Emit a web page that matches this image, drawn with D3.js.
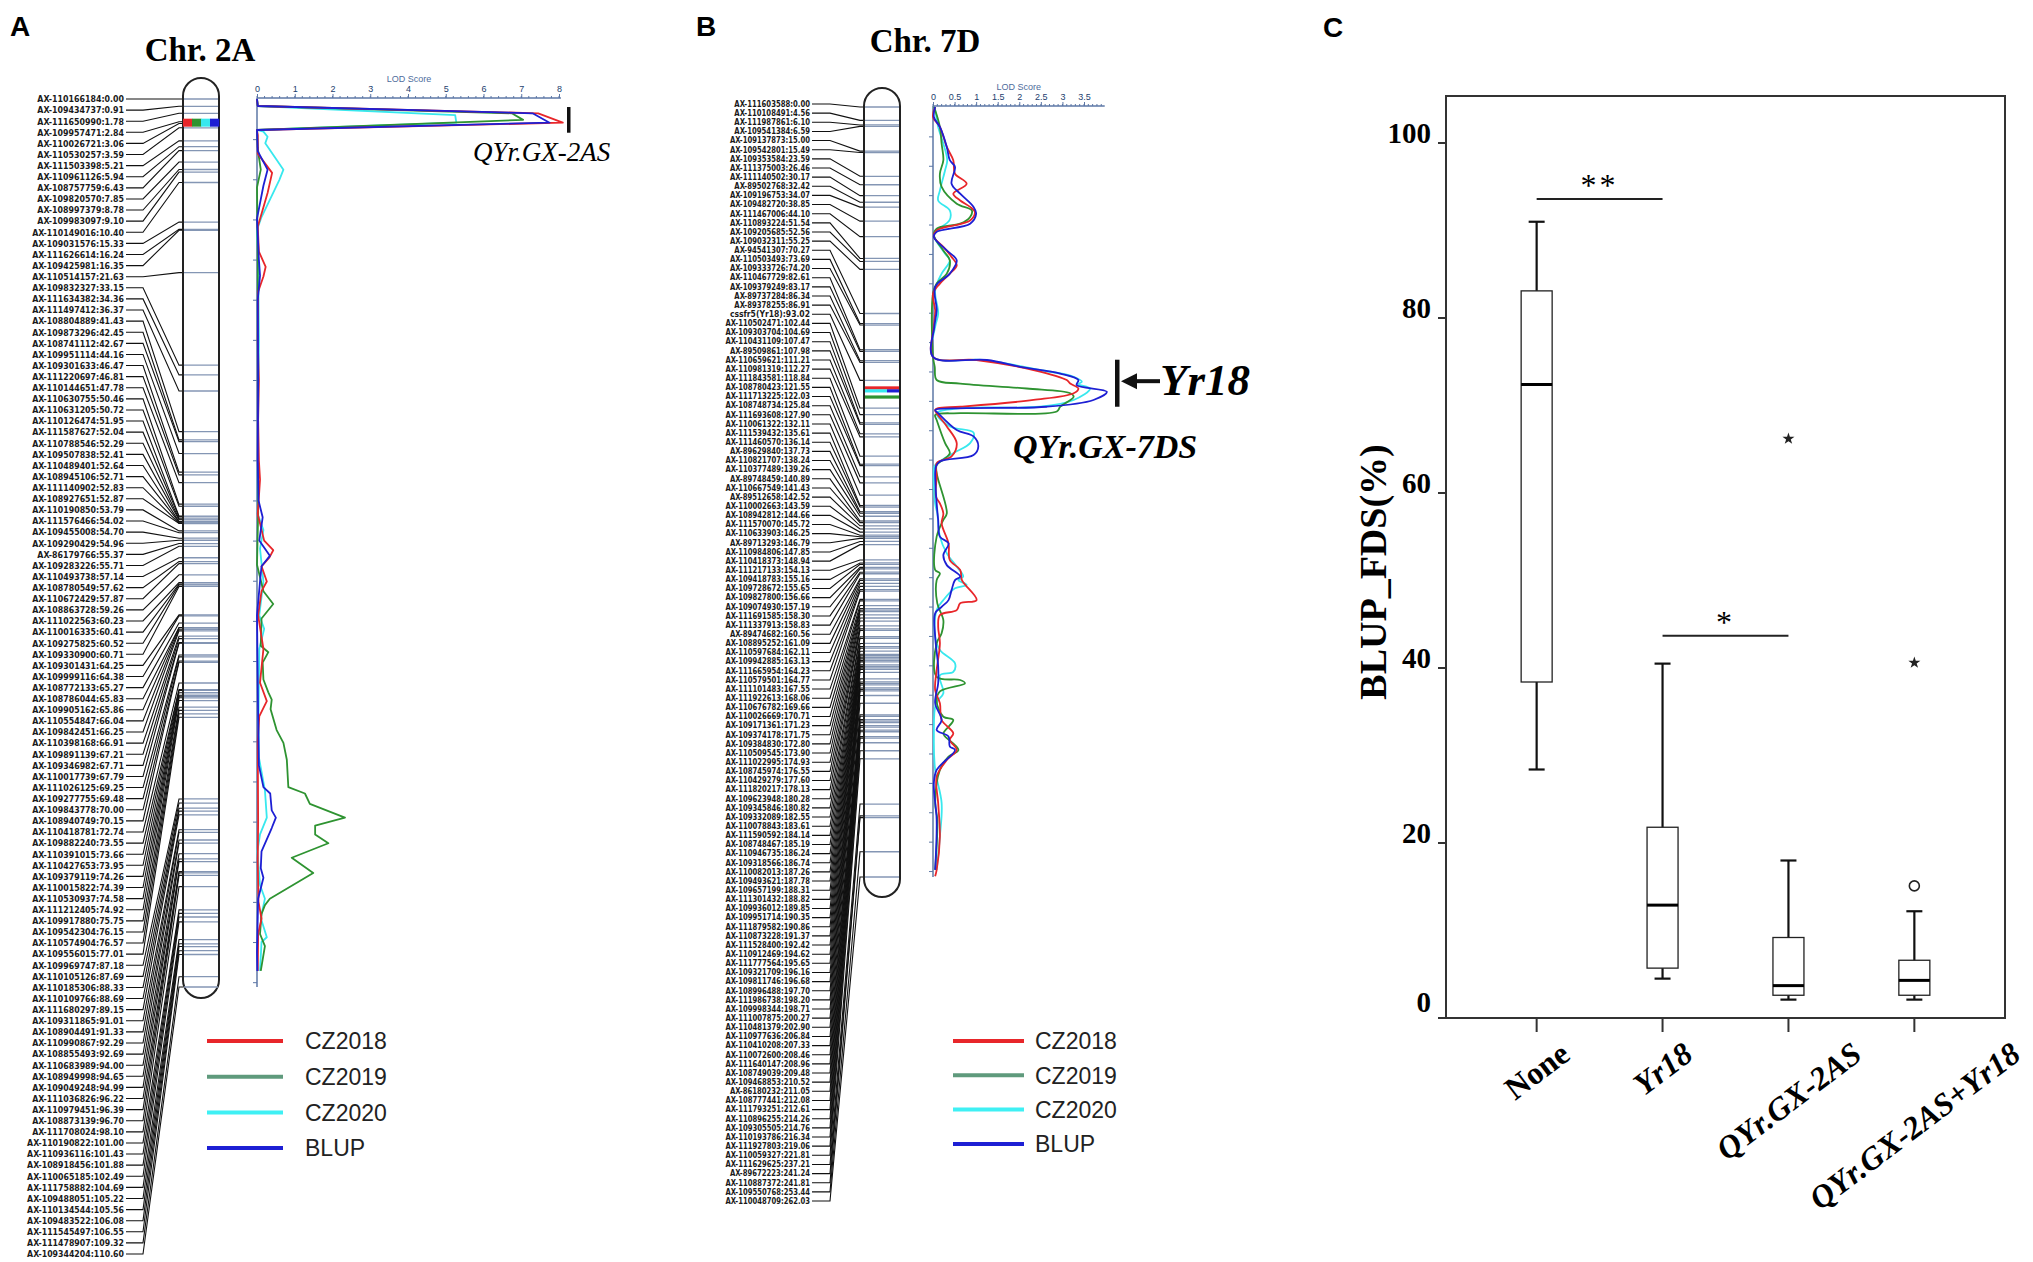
<!DOCTYPE html>
<html>
<head>
<meta charset="utf-8">
<script src="https://cdn.jsdelivr.net/npm/d3@7/dist/d3.min.js"></script>
<style>
body{margin:0;background:#fff;}
svg{display:block;}
</style>
</head>
<body>
<svg id="fig" width="2033" height="1262"></svg>
<script>
// ---------- data: chromosome 2A markers (name, cM) ----------
var markersA = [
["AX-110166184",0.00],["AX-109434737",0.91],["AX-111650990",1.78],["AX-109957471",2.84],["AX-110026721",3.06],
["AX-110530257",3.59],["AX-111503398",5.21],["AX-110961126",5.94],["AX-108757759",6.43],["AX-109820570",7.85],
["AX-108997379",8.78],["AX-109983097",9.10],["AX-110149016",10.40],["AX-109031576",15.33],["AX-111626614",16.24],
["AX-109425981",16.35],["AX-110514157",21.63],["AX-109832327",33.15],["AX-111634382",34.36],["AX-111497412",36.37],
["AX-108804889",41.43],["AX-109873296",42.45],["AX-108741112",42.67],["AX-109951114",44.16],["AX-109301633",46.47],
["AX-111220697",46.81],["AX-110144651",47.78],["AX-110630755",50.46],["AX-110631205",50.72],["AX-110126474",51.95],
["AX-111587627",52.04],["AX-110788546",52.29],["AX-109507838",52.41],["AX-110489401",52.64],["AX-108945106",52.71],
["AX-111140902",52.83],["AX-108927651",52.87],["AX-110190850",53.79],["AX-111576466",54.02],["AX-109455008",54.70],
["AX-109290429",54.96],["AX-86179766",55.37],["AX-109283226",55.71],["AX-110493738",57.14],["AX-108780549",57.62],
["AX-110672429",57.87],["AX-108863728",59.26],["AX-111022563",60.23],["AX-110016335",60.41],["AX-109275825",60.52],
["AX-109330900",60.71],["AX-109301431",64.25],["AX-109999116",64.38],["AX-108772133",65.27],["AX-108786044",65.83],
["AX-109905162",65.86],["AX-110554847",66.04],["AX-109842451",66.25],["AX-110398168",66.91],["AX-109891139",67.21],
["AX-109346982",67.71],["AX-110017739",67.79],["AX-111026125",69.25],["AX-109277755",69.48],["AX-109843778",70.00],
["AX-108940749",70.15],["AX-110418781",72.74],["AX-109882240",73.55],["AX-110391015",73.66],["AX-110427653",73.95],
["AX-109379119",74.26],["AX-110015822",74.39],["AX-110530937",74.58],["AX-111212405",74.92],["AX-109917880",75.75],
["AX-109542304",76.15],["AX-110574904",76.57],["AX-109556015",77.01],["AX-109969747",87.18],["AX-110105126",87.69],
["AX-110185306",88.33],["AX-110109766",88.69],["AX-111680297",89.15],["AX-109311865",91.01],["AX-108904491",91.33],
["AX-110990867",92.29],["AX-108855493",92.69],["AX-110683989",94.00],["AX-108949998",94.65],["AX-109049248",94.99],
["AX-111036826",96.22],["AX-110979451",96.39],["AX-108873139",96.70],["AX-111708024",98.10],["AX-110190822",101.00],
["AX-110936116",101.43],["AX-108918456",101.88],["AX-110065185",102.49],["AX-111758882",104.69],["AX-109488051",105.22],
["AX-110134544",105.56],["AX-109483522",106.08],["AX-111545497",106.55],["AX-111478907",109.32],["AX-109344204",110.60]
];

// ---------- data: chromosome 7D markers (name, cM) ----------
var markersB = [
["AX-111603588",0.00],["AX-110108491",4.56],["AX-111987861",6.10],["AX-109541384",6.59],["AX-109137873",15.00],
["AX-109542801",15.49],["AX-109353584",23.59],["AX-111375003",26.46],["AX-111140502",30.17],["AX-89502768",32.42],
["AX-109196753",34.07],["AX-109482720",38.85],["AX-111467006",44.10],["AX-110893224",51.54],["AX-109205685",52.56],
["AX-109032311",55.25],["AX-94541307",70.27],["AX-110503493",73.69],["AX-109333726",74.20],["AX-110467729",82.61],
["AX-109379249",83.17],["AX-89737284",86.34],["AX-89378255",86.91],["cssfr5(Yr18)",93.02],["AX-110502471",102.44],
["AX-109303704",104.69],["AX-110431109",107.47],["AX-89509861",107.98],["AX-110659621",111.21],["AX-110981319",112.27],
["AX-111843581",118.84],["AX-108780423",121.55],["AX-111713225",122.03],["AX-108748734",125.84],["AX-111693608",127.90],
["AX-110061322",132.11],["AX-111539432",135.61],["AX-111460570",136.14],["AX-89629840",137.73],["AX-110821707",138.24],
["AX-110377489",139.26],["AX-89748459",140.89],["AX-110667549",141.43],["AX-89512658",142.52],["AX-110002663",143.59],
["AX-108942812",144.66],["AX-111570070",145.72],["AX-110633903",146.25],["AX-89713293",146.79],["AX-110984806",147.85],
["AX-110418373",148.94],["AX-111217133",154.13],["AX-109418783",155.16],["AX-109728672",155.65],["AX-109827800",156.66],
["AX-109074930",157.19],["AX-111691585",158.30],["AX-111337913",158.83],["AX-89474682",160.56],["AX-108895252",161.09],
["AX-110597684",162.11],["AX-109942885",163.13],["AX-111665954",164.23],["AX-110579501",164.77],["AX-111101483",167.55],
["AX-111922613",168.06],["AX-110676782",169.66],["AX-110026669",170.71],["AX-109171361",171.23],["AX-109374178",171.75],
["AX-109384830",172.80],["AX-110509545",173.90],["AX-111022995",174.93],["AX-108745974",176.55],["AX-110429279",177.60],
["AX-111820217",178.13],["AX-109623948",180.28],["AX-109345846",180.82],["AX-109332089",182.55],["AX-110078843",183.61],
["AX-111590592",184.14],["AX-108748467",185.19],["AX-110946735",186.24],["AX-109318566",186.74],["AX-110082013",187.26],
["AX-109493621",187.78],["AX-109657199",188.31],["AX-111301432",188.82],["AX-109936012",189.85],["AX-109951714",190.35],
["AX-111879582",190.86],["AX-110873228",191.37],["AX-111528400",192.42],["AX-110912469",194.62],["AX-111777564",195.65],
["AX-109321709",196.16],["AX-109811746",196.68],["AX-108996488",197.70],["AX-111986738",198.20],["AX-109998344",198.71],
["AX-111007875",200.27],["AX-110481379",202.90],["AX-110977636",206.84],["AX-110410208",207.33],["AX-110072600",208.46],
["AX-111640147",208.96],["AX-108749039",209.48],["AX-109468853",210.52],["AX-86180232",211.05],["AX-108777441",212.08],
["AX-111793251",212.61],["AX-110896255",214.26],["AX-109305505",214.76],["AX-110193786",216.34],["AX-111927803",219.06],
["AX-110059327",221.81],["AX-111629625",237.21],["AX-89672223",241.24],["AX-110887372",241.81],["AX-109550768",253.44],
["AX-110048709",262.03]
];

var seriesNames = ["CZ2018","CZ2019","CZ2020","BLUP"];

// ---------- LOD profiles on 2A: [cM, LOD] ----------
var lodA_CZ2018 = [[0,0],[0.87,0.02],[1.78,7.45],[2.95,8.1],[3.86,0],[4.5,0.02],[6.8,0.02],[9.2,0.4],[11.7,0.28],[15.9,0.02],
[19,0.05],[20.9,0.23],[22.1,0.17],[24,0.03],[30,0.02],[35,0.05],[40,0.03],[45,0.05],[47.4,0.08],[51.7,0.02],[55.0,0.19],
[56.2,0.43],[57.1,0.33],[58.2,0.12],[60.1,0.26],[61.3,0.12],[64.3,0.03],[68.5,0.17],[72.7,0.08],[75.0,0.26],[76.9,0.06],
[80,0.02],[90,0.03],[95,0.02],[100,0.04],[102.1,0.12],[104,0.03],[108.6,0.02]];
var lodA_CZ2019 = [[0,0],[0.87,0.02],[1.78,6.75],[2.6,7.05],[3.86,0],[6,0.02],[7.2,0.05],[8.8,0.1],[11,0.0],[20,0.02],
[30,0.02],[40,0.03],[47.4,0.03],[51.7,0.03],[58,0.0],[61.3,0.17],[62.9,0.43],[64.7,0.12],[68.1,0.1],[68.9,0.3],[70.2,0.15],
[72.3,0.17],[73.9,0.3],[74.8,0.39],[76.0,0.36],[78.6,0.52],[80.2,0.7],[82.3,0.79],[85.7,0.83],[86.5,1.27],[87.8,1.4],
[89.5,2.33],[90.5,1.54],[91.6,1.54],[92.7,1.89],[94.5,0.92],[96.4,1.49],[99.6,0.34],[100.4,0.21],[101.5,0.12],[104,0.08],
[105.5,0.21],[108.6,0.1]];
var lodA_CZ2020 = [[0,0],[0.87,0.02],[2.0,5.25],[2.95,5.28],[3.86,0],[4.07,0.17],[4.7,0.28],[5.5,0.22],[8.8,0.7],[10.1,0.59],
[14.7,0.12],[16.3,0.0],[20,0.03],[30,0.05],[40,0.03],[47,0.02],[51.7,0.02],[53.7,0.17],[56.0,0.08],[60.1,0.17],[64.3,0.06],
[66.0,0.19],[68.5,0.06],[76.9,0.04],[82,0.05],[86.1,0.21],[89.5,0.26],[91.6,0.08],[93.7,0.01],[97.9,0.08],[99.6,0.21],
[102,0.1],[104.4,0.26],[105.0,0.12],[108.6,0.08]];
var lodA_BLUP = [[0,0],[0.87,0.02],[1.78,7.3],[2.95,7.75],[3.86,0],[6.5,0.02],[8.8,0.28],[10.8,0.17],[14.9,0],[20,0.05],
[22,0.08],[25,0.02],[35,0.03],[45,0.02],[50,0.04],[52.1,0.15],[55.0,0.06],[56.9,0.34],[58.2,0.12],[60.1,0.08],[64.3,0],
[76.9,0.03],[83,0.05],[85.7,0.17],[86.5,0.35],[88.6,0.39],[89.5,0.5],[90.8,0.39],[93.7,0.12],[95.8,0.1],[97.0,0.17],
[99.6,0.03],[106.3,0],[108.6,0.01]];

// ---------- LOD profiles on 7D: [cM, LOD] ----------
var lodB_CZ2018 = [[0,0.05],[3.4,0],[6.8,0.16],[13.6,0.32],[18.1,0.47],[22.7,0.51],[26.1,0.78],[29.5,0.47],[31.8,0.63],
[34.0,0.86],[35.7,0.97],[38.6,0.86],[42.0,0.085],[44.2,0.02],[47.6,0.24],[51.0,0.43],[53.9,0.55],[56.7,0.39],[60.1,0.16],
[63.5,0],[69.2,0.05],[74.8,0.02],[85.0,0],[86.1,1.01],[89.5,2.33],[92.9,3.1],[94.1,3.18],[95.8,3.37],[97.4,3.26],[99.7,2.33],
[102.0,0.63],[102.5,0.12],[103.1,0.05],[104.2,0.085],[108.7,0.32],[114.4,0.55],[118.9,0.43],[121.2,0.085],[125.7,0.085],
[132.6,0.07],[134.9,0.16],[138.3,0.24],[141.7,0.2],[148.5,0.36],[154.2,0.39],[157.5,0.63],[161.0,0.67],[167.8,1.01],
[168.9,0.63],[171.2,0.55],[172.9,0.16],[176.8,0.12],[182.5,0.16],[191.6,0.085],[198.4,0.05],[202.9,0.16],[208.6,0.2],
[213.1,0.47],[215.4,0.39],[218.8,0.55],[222.2,0.32],[227.9,0.085],[236.9,0.12],[248.2,0.16],[259.6,0.085],[261.8,0.05]];
var lodB_CZ2019 = [[0,0.02],[1.1,0.05],[6.8,0.16],[12.5,0.2],[18.1,0.24],[22.7,0.16],[27.2,0.2],[32.9,0.55],[35.2,0.9],
[37.4,0.86],[39.7,0.63],[41.4,0.085],[43.7,0.02],[48.8,0.24],[52.2,0.39],[56.7,0.32],[60.1,0.085],[63.5,0],[85.0,0],
[88.4,0.04],[92.9,0.085],[94.1,0.63],[95.8,2.17],[97.4,3.18],[98.6,3.26],[102.0,2.95],[103.6,2.87],[104.2,0.63],[104.8,0.05],
[106.5,0.085],[114.4,0.28],[117.8,0.39],[120.0,0.24],[121.8,0.085],[124.6,0.085],[138.3,0.32],[140.5,0.24],[146.2,0.085],
[157.5,0.05],[158.7,0.16],[161.0,0.085],[168.9,0.1],[174.6,0.24],[179.1,0.2],[182.5,0.085],[193.9,0.085],[195.0,0.63],
[196.1,0.74],[198.9,0.16],[202.3,0.085],[207.5,0.24],[208.6,0.47],[213.1,0.24],[214.2,0.28],[218.8,0.59],[221.1,0.36],
[225.6,0.16],[236.9,0.05],[242.6,0.1],[259.6,0.05]];
var lodB_CZ2020 = [[0,0.02],[1.1,0.05],[6.8,0.12],[12.5,0.24],[18.1,0.33],[21.5,0.28],[28.4,0.16],[31.8,0.12],[35.2,0.39],
[38.6,0.38],[42.0,0.085],[43.7,0.02],[49.9,0.28],[52.2,0.39],[56.7,0.2],[62.4,0.05],[70.3,0.12],[74.8,0.05],[85.0,0],
[86.1,1.17],[89.5,2.48],[91.8,3.26],[93.5,3.45],[94.3,3.37],[95.8,3.64],[99.7,3.26],[102.0,2.48],[102.5,0.63],[104.2,0.085],
[108.7,0.39],[110.8,0.94],[114.4,0.86],[117.8,0.47],[120.6,0.16],[121.8,0.05],[123.5,0.02],[134.9,0.05],[138.3,0.1],
[146.2,0.16],[151.9,0.32],[156.4,0.55],[159.8,0.7],[161.0,0.59],[162.6,0.78],[163.8,0.51],[167.8,0.24],[171.2,0.085],
[180.2,0.05],[184.8,0.16],[189.3,0.51],[192.2,0.47],[193.4,0.16],[199.5,0.24],[202.9,0.07],[214.2,0.02],[225.6,0.05],
[236.9,0.2],[248.2,0.16],[259.6,0.085]];
var lodB_BLUP = [[0,0.05],[3.4,0.02],[6.8,0.16],[13.6,0.32],[18.1,0.39],[20.4,0.51],[26.1,0.43],[29.5,0.63],[34.0,0.94],
[36.3,1.0],[39.7,0.86],[42.5,0.085],[44.2,0.02],[48.8,0.32],[52.2,0.55],[56.7,0.39],[61.2,0.05],[69.2,0.085],[74.8,0.03],
[85.0,0],[86.1,1.25],[88.4,2.02],[90.7,2.95],[92.9,3.37],[94.6,3.33],[96.9,4.03],[99.7,3.72],[102.0,2.64],[102.5,0.78],
[103.1,0.05],[104.2,0.12],[109.9,0.55],[112.1,0.94],[115.5,1.05],[118.4,0.94],[120.6,0.16],[122.3,0.07],[124.6,0.05],
[134.9,0.085],[140.5,0.12],[146.2,0.16],[148.5,0.36],[152.5,0.24],[155.9,0.32],[159.8,0.63],[161.0,0.51],[164.4,0.43],
[167.8,0.36],[170.1,0.2],[172.3,0.05],[180.2,0.05],[190.5,0.12],[196.1,0.12],[202.9,0.05],[208.6,0.2],[212.0,0.085],
[214.2,0.36],[217.6,0.39],[218.8,0.51],[225.6,0.085],[230.1,0.02],[242.6,0.085],[259.6,0.05]];

// QTL peak position drawn on the chromosome bars (cM)
var peakA = 2.95;
var peakB = [95.6, 96.6, 98.7]; // CZ2018 / CZ2020+BLUP / CZ2019

// ---------- box plot ----------
var boxCats = ["None","Yr18","QYr.GX-2AS","QYr.GX-2AS+Yr18"];
var boxLow  = [28.4, 4.5, 2.1, 2.1];
var boxQ1   = [38.4, 5.7, 2.6, 2.6];
var boxMed  = [72.4, 12.9, 3.7, 4.3];
var boxQ3   = [83.1, 21.8, 9.2, 6.6];
var boxHigh = [91.0, 40.5, 18.0, 12.2];
var outlierPts = [["QYr.GX-2AS+Yr18",15.1]];
var extremePts = [["QYr.GX-2AS",66.2],["QYr.GX-2AS+Yr18",40.6]];
var sigBars = [["None","Yr18",93.6,"**"],["Yr18","QYr.GX-2AS",43.7,"*"]];
var yTicksC = [0,20,40,60,80,100];

var colors = {"CZ2018":"#e8262a","CZ2019":"#2e9331","CZ2020":"#38e8ee","BLUP":"#1d1fd4"};
var legendColors = {"CZ2018":"#e8262a","CZ2019":"#5f9a7c","CZ2020":"#3ff0f4","BLUP":"#1d1fd4"};

var svg = d3.select("#fig");
var serif = "'Liberation Serif','Times New Roman',serif";
var sans = "'Liberation Sans',Arial,sans-serif";
var narrow = "'Liberation Sans Narrow','DejaVu Sans Condensed','Liberation Sans',sans-serif";

// panel letters
svg.selectAll("text.plab")
    .data([["A",10,36],["B",696,36],["C",1323,37]])
    .enter().append("text")
    .attr("x", function(d){ return d[1]; })
    .attr("y", function(d){ return d[2]; })
    .style("font-family", sans).style("font-weight","bold").style("font-size","28px")
    .text(function(d){ return d[0]; });

// ===== linkage map panel =====
function drawMap(cfg){
    var g = svg.append("g");
    var y = d3.scaleLinear().domain([0, cfg.maxCM]).range([cfg.y0, cfg.y1]);
    var n = cfg.markers.length;
    var yl = d3.scaleLinear().domain([0, n-1]).range([cfg.lab0, cfg.lab1]);

    g.append("text")
        .attr("x", cfg.titleX).attr("y", cfg.titleY)
        .attr("text-anchor","middle")
        .style("font-family", serif).style("font-weight","bold").style("font-size","33px")
        .text(cfg.title);

    // marker labels
    g.selectAll("text.mk")
        .data(cfg.markers)
        .enter().append("text")
        .attr("x", cfg.textRight)
        .attr("y", function(d,i){ return yl(i); })
        .attr("dy","0.35em")
        .attr("text-anchor","end")
        .attr("textLength", function(d){ return (d[0]+":"+d[1].toFixed(2)).length * cfg.charW; })
        .attr("lengthAdjust","spacingAndGlyphs")
        .style("font-family", narrow).style("font-weight","bold")
        .style("font-size", cfg.fontSize+"px").style("fill","#1a1a1a")
        .text(function(d){ return d[0]+":"+d[1].toFixed(2); });

    // connector lines
    g.selectAll("polyline.ln")
        .data(cfg.markers)
        .enter().append("polyline")
        .attr("points", function(d,i){
            var a = yl(i), b = y(d[1]);
            return [[cfg.textRight+2,a],[cfg.stubEnd,a],[cfg.cx0-4,b],[cfg.cx0,b]].join(" ");
        })
        .style("fill","none").style("stroke","#111").style("stroke-width",1.1);

    // chromosome body
    g.append("rect")
        .attr("x", cfg.cx0).attr("y", cfg.top)
        .attr("width", cfg.cx1-cfg.cx0).attr("height", cfg.bottom-cfg.top)
        .attr("rx", (cfg.cx1-cfg.cx0)/2)
        .style("fill","#fff").style("stroke","#222").style("stroke-width",2);

    g.selectAll("line.band")
        .data(cfg.markers)
        .enter().append("line")
        .attr("x1", cfg.cx0+1).attr("x2", cfg.cx1-1)
        .attr("y1", function(d){ return y(d[1]); })
        .attr("y2", function(d){ return y(d[1]); })
        .style("stroke","#8496b4").style("stroke-width",1.3);

    cfg.peak(g, y);

    // LOD axes
    var x = d3.scaleLinear().domain([0, cfg.lodMax]).range([cfg.lx0, cfg.lx1]);
    var ax = g.append("g").attr("transform","translate(0,"+(cfg.y0-1)+")")
        .call(d3.axisTop(x).tickValues(cfg.lodTicks).tickSize(4).tickFormat(d3.format("")));
    ax.select(".domain").attr("d","M"+cfg.lx0+",0H"+x(cfg.lodEnd)).style("stroke","#5c77a6").style("stroke-width",1.5);
    ax.selectAll(".tick line").style("stroke","#5c77a6");
    ax.selectAll(".tick text").style("font-family",sans).style("font-size","9px").style("fill","#23406e").attr("y",-6);
    g.selectAll("line.minor")
        .data(d3.range(0, cfg.lodEnd+0.001, cfg.minorStep))
        .enter().append("line")
        .attr("x1", function(d){ return x(d); }).attr("x2", function(d){ return x(d); })
        .attr("y1", cfg.y0-1).attr("y2", cfg.y0-3)
        .style("stroke","#5c77a6").style("stroke-width",1);
    g.append("text")
        .attr("x", (cfg.lx0+x(cfg.lodEnd))/2).attr("y", cfg.y0-17)
        .attr("text-anchor","middle")
        .style("font-family",sans).style("font-size","9px").style("fill","#4e6c9c")
        .text("LOD Score");

    var ay = g.append("g").attr("transform","translate("+cfg.lx0+",0)")
        .call(d3.axisLeft(y).tickValues(d3.range(cfg.cmStep, cfg.maxCM, cfg.cmStep)).tickSize(4).tickFormat(""));
    ay.select(".domain").attr("d","M0,"+(cfg.y0-1)+"V"+cfg.y1).style("stroke","#5c77a6").style("stroke-width",1.5);
    ay.selectAll(".tick line").style("stroke","#5c77a6");

    var line = d3.line()
        .x(function(d){ return x(d[1]); })
        .y(function(d){ return y(d[0]); })
        .curve(cfg.curve);
    var drawOrder = ["CZ2020","CZ2019","CZ2018","BLUP"];
    drawOrder.forEach(function(s){
        g.append("path")
            .datum(cfg.lod[s])
            .attr("d", line)
            .style("fill","none").style("stroke",colors[s]).style("stroke-width",1.8)
            .style("stroke-linejoin","round");
    });

    // legend
    var lg = g.selectAll("g.leg")
        .data(seriesNames)
        .enter().append("g")
        .attr("transform", function(d,i){ return "translate(0,"+(cfg.legY0+i*cfg.legDy)+")"; });
    lg.append("line")
        .attr("x1", cfg.legX0).attr("x2", cfg.legX1)
        .style("stroke", function(d){ return legendColors[d]; }).style("stroke-width",4);
    lg.append("text")
        .attr("x", cfg.legTextX).attr("dy","0.36em")
        .style("font-family",sans).style("font-size","23px").style("fill","#222")
        .text(function(d){ return d; });
    return {g:g, x:x, y:y};
}

var mapA = drawMap({
    title:"Chr. 2A", titleX:200, titleY:61,
    markers:markersA, maxCM:110.6, y0:99, y1:987,
    lab0:99, lab1:1254, textRight:124, stubEnd:143, charW:5.1, fontSize:9.5,
    cx0:183, cx1:219, top:78, bottom:998,
    lodMax:8, lx0:257, lx1:559, lodEnd:8.05, lodTicks:d3.range(0,9), minorStep:0.2, cmStep:5,
    lod:{"CZ2018":lodA_CZ2018,"CZ2019":lodA_CZ2019,"CZ2020":lodA_CZ2020,"BLUP":lodA_BLUP},
    curve:d3.curveLinear,
    legY0:1041, legDy:35.7, legX0:207, legX1:283, legTextX:305,
    peak:function(g, y){
        var w = (219-183)/4;
        g.selectAll("rect.pk")
            .data(seriesNames)
            .enter().append("rect")
            .attr("x", function(d,i){ return 183+i*w; })
            .attr("y", y(peakA)-4).attr("width", w+0.3).attr("height", 8)
            .style("fill", function(d){ return colors[d]; });
    }
});

var mapB = drawMap({
    title:"Chr. 7D", titleX:925, titleY:52,
    markers:markersB, maxCM:262.03, y0:107, y1:877,
    lab0:104, lab1:1201, textRight:810, stubEnd:830, charW:4.45, fontSize:8,
    cx0:864, cx1:900, top:88, bottom:897,
    lodMax:3.5, lx0:933, lx1:1084, lodEnd:3.98, lodTicks:d3.range(0,3.51,0.5), minorStep:0.1, cmStep:10,
    lod:{"CZ2018":lodB_CZ2018,"CZ2019":lodB_CZ2019,"CZ2020":lodB_CZ2020,"BLUP":lodB_BLUP},
    curve:d3.curveCatmullRom.alpha(0.5),
    legY0:1041, legDy:34.3, legX0:953, legX1:1024, legTextX:1035,
    peak:function(g, y){
        g.append("rect").attr("x",865).attr("y",y(peakB[0])-1.6).attr("width",34).attr("height",3.2).style("fill",colors["CZ2018"]);
        g.append("rect").attr("x",865).attr("y",y(peakB[1])-1.6).attr("width",22).attr("height",3.2).style("fill",colors["CZ2020"]);
        g.append("rect").attr("x",887).attr("y",y(peakB[1])-1.6).attr("width",12).attr("height",3.2).style("fill",colors["BLUP"]);
        g.append("rect").attr("x",865).attr("y",y(peakB[2])-1.6).attr("width",34).attr("height",3.2).style("fill",colors["CZ2019"]);
    }
});

// QTL annotations
svg.append("rect").attr("x",567).attr("y",mapA.y(1.0)).attr("width",3.5).attr("height",mapA.y(4.2)-mapA.y(1.0)).style("fill","#111");
svg.append("text").attr("x",473).attr("y",161)
    .style("font-family",serif).style("font-style","italic").style("font-size","27px")
    .text("QYr.GX-2AS");

svg.append("rect").attr("x",1115).attr("y",mapB.y(86)).attr("width",4.5).attr("height",mapB.y(102)-mapB.y(86)).style("fill","#111");
svg.append("line").attr("x1",1134).attr("x2",1160).attr("y1",mapB.y(93.3)).attr("y2",mapB.y(93.3))
    .style("stroke","#111").style("stroke-width",4);
svg.append("path")
    .attr("d","M1121,"+mapB.y(93.3)+"l16,-8v16z")
    .style("fill","#111");
svg.append("text").attr("x",1160).attr("y",395)
    .style("font-family",serif).style("font-style","italic").style("font-weight","bold").style("font-size","45px")
    .text("Yr18");
svg.append("text").attr("x",1013).attr("y",458)
    .style("font-family",serif).style("font-style","italic").style("font-weight","bold").style("font-size","34px")
    .text("QYr.GX-7DS");

// ===== panel C: box plot =====
var fx0 = 1446, fx1 = 2005, fy0 = 96, fy1 = 1018;
var xC = d3.scalePoint().domain(boxCats).range([fx0, fx1]).padding(0.72);
var yC = d3.scaleLinear().domain([0,100]).range([fy1, 143]);
var gc = svg.append("g");

gc.append("rect").attr("x",fx0).attr("y",fy0).attr("width",fx1-fx0).attr("height",fy1-fy0)
    .style("fill","none").style("stroke","#333").style("stroke-width",2);

gc.selectAll("line.yt")
    .data(yTicksC).enter().append("line")
    .attr("x1",fx0-8).attr("x2",fx0)
    .attr("y1",function(d){ return yC(d); }).attr("y2",function(d){ return yC(d); })
    .style("stroke","#333").style("stroke-width",2);
gc.selectAll("text.yl")
    .data(yTicksC).enter().append("text")
    .attr("x",1431)
    .attr("y",function(d){ return yC(d) - (d===0 ? 16 : 10); })
    .attr("dy","0.35em").attr("text-anchor","end")
    .style("font-family",serif).style("font-weight","bold").style("font-size","29px")
    .text(function(d){ return d; });

gc.selectAll("line.xt")
    .data(boxCats).enter().append("line")
    .attr("x1",function(d){ return xC(d); }).attr("x2",function(d){ return xC(d); })
    .attr("y1",fy1).attr("y2",fy1+14)
    .style("stroke","#333").style("stroke-width",2);

gc.append("text")
    .attr("transform","translate(1386,572) rotate(-90)")
    .attr("text-anchor","middle")
    .style("font-family",serif).style("font-weight","bold").style("font-size","38px")
    .text("BLUP_FDS(%)");

var bw = 31, capW = 16;
var boxes = gc.selectAll("g.box")
    .data(boxCats).enter().append("g");
boxes.append("line")
    .attr("x1",function(d){ return xC(d); }).attr("x2",function(d){ return xC(d); })
    .attr("y1",function(d,i){ return yC(boxHigh[i]); }).attr("y2",function(d,i){ return yC(boxLow[i]); })
    .style("stroke","#111").style("stroke-width",2.2);
boxes.append("rect")
    .attr("x",function(d){ return xC(d)-bw/2; })
    .attr("y",function(d,i){ return yC(boxQ3[i]); })
    .attr("width",bw)
    .attr("height",function(d,i){ return yC(boxQ1[i]) - yC(boxQ3[i]); })
    .style("fill","#fff").style("stroke","#222").style("stroke-width",1.3);
boxes.append("line")
    .attr("x1",function(d){ return xC(d)-bw/2; }).attr("x2",function(d){ return xC(d)+bw/2; })
    .attr("y1",function(d,i){ return yC(boxMed[i]); }).attr("y2",function(d,i){ return yC(boxMed[i]); })
    .style("stroke","#000").style("stroke-width",3);
[boxHigh, boxLow].forEach(function(arr){
    boxes.append("line")
        .attr("x1",function(d){ return xC(d)-capW/2; }).attr("x2",function(d){ return xC(d)+capW/2; })
        .attr("y1",function(d,i){ return yC(arr[i]); }).attr("y2",function(d,i){ return yC(arr[i]); })
        .style("stroke","#111").style("stroke-width",2.2);
});

gc.selectAll("circle.out")
    .data(outlierPts).enter().append("circle")
    .attr("cx",function(d){ return xC(d[0]); }).attr("cy",function(d){ return yC(d[1]); })
    .attr("r",5).style("fill","none").style("stroke","#222").style("stroke-width",1.6);
gc.selectAll("path.ext")
    .data(extremePts).enter().append("path")
    .attr("transform",function(d){ return "translate("+xC(d[0])+","+yC(d[1])+")"; })
    .attr("d", d3.symbol().type(d3.symbolStar).size(45))
    .style("fill","#222");

gc.selectAll("line.sig")
    .data(sigBars).enter().append("line")
    .attr("x1",function(d){ return xC(d[0]); }).attr("x2",function(d){ return xC(d[1]); })
    .attr("y1",function(d){ return yC(d[2]); }).attr("y2",function(d){ return yC(d[2]); })
    .style("stroke","#222").style("stroke-width",2);
gc.selectAll("text.sig")
    .data(sigBars).enter().append("text")
    .attr("x",function(d){ return (xC(d[0])+xC(d[1]))/2; })
    .attr("y",function(d){ return yC(d[2]) - 3; })
    .attr("text-anchor","middle")
    .style("font-family",serif).style("font-size","32px").style("letter-spacing","3px")
    .text(function(d){ return d[3]; });

// rotated category labels: bbox centred under tick, tops aligned
var ang = 37, rad = ang*Math.PI/180, labTop = 1040, labFs = 32;
gc.selectAll("text.cat")
    .data(boxCats).enter().append("text")
    .attr("text-anchor","middle").attr("dy","0.35em")
    .style("font-family",serif).style("font-weight","bold").style("font-size",labFs+"px")
    .style("font-style",function(d){ return d==="None" ? "normal" : "italic"; })
    .text(function(d){ return d; })
    .attr("transform",function(d){
        var L = this.getComputedTextLength();
        var cy = labTop + (L/2)*Math.sin(rad) + (labFs*0.36)*Math.cos(rad);
        return "translate("+xC(d)+","+cy+") rotate("+(-ang)+")";
    });
</script>
</body>
</html>
